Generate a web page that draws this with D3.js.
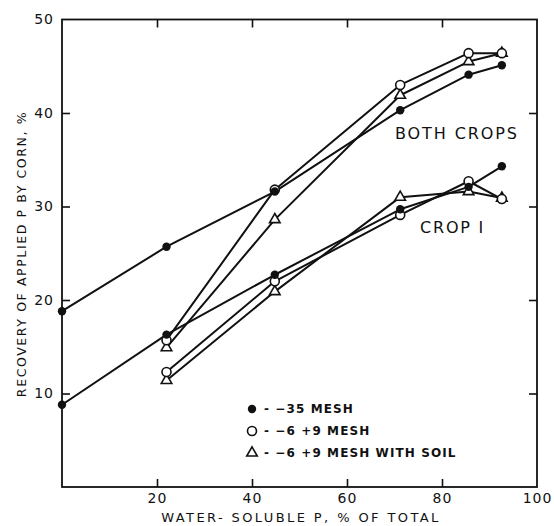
<!DOCTYPE html>
<html>
<head>
<meta charset="utf-8">
<script src="https://cdn.jsdelivr.net/npm/d3@7"></script>
<style>
  body { margin: 0; background: #fff; }
  text { font-family: 'DejaVu Sans', sans-serif; fill: #111; }
</style>
</head>
<body>
<div id="chart"></div>
<script>
// water-soluble P, % of total
var waterSoluble = [0, 22, 44.8, 71.2, 85.6, 92.6]

// both crops
var both35 = [18.8, 25.7, 31.6, 40.3, 44.1, 45.1]
var both69 = [null, 15.7, 31.8, 43.0, 46.4, 46.4]
var both69Soil = [null, 14.9, 28.6, 41.9, 45.5, 46.4]

// crop 1
var crop35 = [8.8, 16.3, 22.7, 29.7, 32.1, 34.3]
var crop69 = [null, 12.3, 22.0, 29.1, 32.7, 30.8]
var crop69Soil = [null, 11.4, 20.9, 31.0, 31.6, 30.9]

var xTicks = [20, 40, 60, 80, 100]
var yTicks = [10, 20, 30, 40, 50]
var legendLabels = ['\u221235 MESH', '\u22126 +9 MESH', '\u22126 +9 MESH WITH SOIL']

var width = 554
var height = 526

var svg = d3.select('#chart').append('svg')
  .attr('width', width)
  .attr('height', height)

var x = d3.scaleLinear().domain([0, 100]).range([62, 537])
var y = d3.scaleLinear().domain([0, 50]).range([487, 19.5])

// frame
svg.append('rect')
  .attr('x', x(0)).attr('y', y(50))
  .attr('width', x(100) - x(0)).attr('height', y(0) - y(50))
  .attr('fill', 'none').attr('stroke', '#111').attr('stroke-width', 1.8)

function styleAxis (g) {
  g.select('.domain').remove()
  g.selectAll('line').attr('stroke', '#111').attr('stroke-width', 1.6)
  g.selectAll('text').attr('font-size', 14).attr('letter-spacing', 1)
    .style('font-family', "'DejaVu Sans', sans-serif").attr('fill', '#111')
}

svg.append('g')
  .attr('transform', 'translate(0,' + y(0) + ')')
  .call(d3.axisBottom(x).tickValues(xTicks).tickSize(-8).tickPadding(6))
  .call(styleAxis)
  .call(g => g.selectAll('.tick').filter(d => d === 100).select('line').remove())

svg.append('g')
  .attr('transform', 'translate(' + x(0) + ',0)')
  .call(d3.axisLeft(y).tickValues(yTicks).tickSize(-8).tickPadding(8))
  .call(styleAxis)
  .call(g => g.selectAll('.tick').filter(d => d === 50).select('line').remove())

svg.append('g')
  .attr('transform', 'translate(0,' + y(50) + ')')
  .call(d3.axisTop(x).tickValues([20, 40, 60, 80]).tickSize(-8).tickFormat(''))
  .call(styleAxis)

svg.append('g')
  .attr('transform', 'translate(' + x(100) + ',0)')
  .call(d3.axisRight(y).tickValues([10, 20, 30, 40]).tickSize(-8).tickFormat(''))
  .call(styleAxis)

// axis titles
svg.append('text')
  .attr('transform', 'translate(22,254) rotate(-90)')
  .attr('text-anchor', 'middle')
  .attr('dy', '0.35em')
  .attr('font-size', 12.5)
  .attr('letter-spacing', 1.6)
  .text('RECOVERY OF APPLIED P BY CORN, %')

svg.append('text')
  .attr('x', 301).attr('y', 522)
  .attr('text-anchor', 'middle')
  .attr('font-size', 13)
  .attr('letter-spacing', 2.4)
  .text('WATER- SOLUBLE P, % OF TOTAL')

// series
var series = [
  { values: both35, marker: 'filled' },
  { values: both69, marker: 'open' },
  { values: both69Soil, marker: 'tri' },
  { values: crop35, marker: 'filled' },
  { values: crop69, marker: 'open' },
  { values: crop69Soil, marker: 'tri' }
]

var line = d3.line()
  .defined(d => d[1] != null)
  .x(d => x(d[0]))
  .y(d => y(d[1]))

var triangle = d3.symbol().type(d3.symbolTriangle).size(48)

function drawMarker (g, kind) {
  if (kind === 'filled') {
    g.append('circle').attr('r', 4.2).attr('fill', '#111')
  } else if (kind === 'open') {
    g.append('circle').attr('r', 4.5).attr('fill', '#fff')
      .attr('stroke', '#111').attr('stroke-width', 1.6)
  } else {
    g.append('path').attr('d', triangle).attr('fill', '#fff')
      .attr('stroke', '#111').attr('stroke-width', 1.6)
  }
}

series.forEach(function (s) {
  var pts = waterSoluble.map((v, i) => [v, s.values[i]])
  svg.append('path')
    .datum(pts)
    .attr('d', line)
    .attr('fill', 'none')
    .attr('stroke', '#111')
    .attr('stroke-width', 2)
    .attr('stroke-linejoin', 'round')
})

// triangles first, filled circles on top
var drawOrder = ['tri', 'open', 'filled']
drawOrder.forEach(function (kind) {
  series.filter(s => s.marker === kind).forEach(function (s) {
    waterSoluble.forEach(function (v, i) {
      if (s.values[i] == null) return
      var g = svg.append('g')
        .attr('transform', 'translate(' + x(v) + ',' + y(s.values[i]) + ')')
      drawMarker(g, s.marker)
    })
  })
})

// curve labels
svg.append('text')
  .attr('x', 395).attr('y', 139)
  .attr('font-size', 16)
  .attr('letter-spacing', 1.9)
  .text('BOTH CROPS')

svg.append('text')
  .attr('x', 420).attr('y', 233)
  .attr('font-size', 16)
  .attr('letter-spacing', 1.8)
  .text('CROP I')

// legend
var kinds = ['filled', 'open', 'tri']
var legend = svg.append('g')
legendLabels.forEach(function (label, i) {
  var ly = 409 + i * 22
  var g = legend.append('g').attr('transform', 'translate(252,' + ly + ')')
  drawMarker(g, kinds[i])
  legend.append('text')
    .attr('x', 264).attr('y', ly).attr('dy', '0.35em')
    .attr('font-size', 12)
    .attr('font-weight', 'bold')
    .attr('letter-spacing', 1.1)
    .text('-  ' + label)
})
</script>
</body>
</html>
